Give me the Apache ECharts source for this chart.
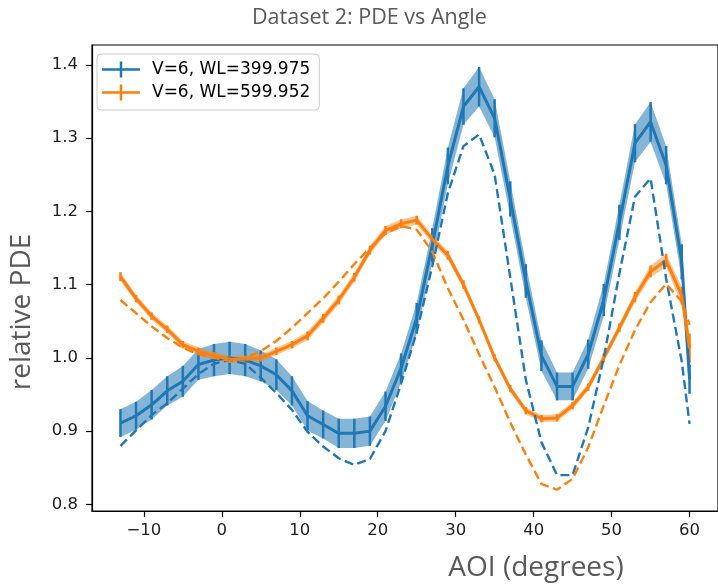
<!DOCTYPE html>
<html>
<head>
<meta charset="utf-8">
<script src="https://cdn.jsdelivr.net/npm/echarts@6/dist/echarts.min.js"></script>
<style>html,body{margin:0;padding:0;background:#fff}#c{width:718px;height:587px}</style>
</head>
<body>
<div id="c"></div>
<script>
// ---- data ----
const angles = [-13,-11,-9,-7,-5,-3,-1,1,3,5,7,9,11,13,15,17,19,21,23,25,27,29,31,33,35,37,39,41,43,45,47,49,51,53,55,57,59,60];

const pde400 = [0.911,0.921,0.936,0.955,0.968,0.991,0.997,1.000,0.997,0.989,0.977,0.955,0.921,0.909,0.897,0.897,0.900,0.934,0.986,1.054,1.154,1.262,1.343,1.370,1.327,1.217,1.105,1.003,0.961,0.961,1.005,1.079,1.185,1.293,1.322,1.263,1.131,0.971];
const err400 = [0.019,0.019,0.020,0.020,0.021,0.021,0.022,0.022,0.022,0.021,0.021,0.020,0.020,0.019,0.020,0.020,0.020,0.020,0.020,0.021,0.023,0.025,0.025,0.027,0.026,0.024,0.023,0.021,0.019,0.019,0.020,0.022,0.024,0.026,0.027,0.026,0.024,0.020];
const model400 = [0.880,0.901,0.922,0.938,0.958,0.978,0.992,0.997,0.992,0.973,0.952,0.929,0.899,0.879,0.863,0.854,0.862,0.900,0.965,1.035,1.125,1.225,1.289,1.305,1.250,1.110,0.970,0.885,0.840,0.840,0.905,1.000,1.115,1.220,1.245,1.108,0.995,0.910];

const pde600 = [1.111,1.081,1.057,1.039,1.018,1.009,1.003,0.998,0.998,1.000,1.009,1.018,1.030,1.054,1.079,1.110,1.147,1.174,1.183,1.188,1.162,1.140,1.100,1.052,1.000,0.958,0.928,0.917,0.918,0.935,0.960,1.000,1.041,1.083,1.118,1.133,1.085,1.013];
const err600 = [0.006,0.005,0.005,0.005,0.005,0.005,0.005,0.005,0.005,0.005,0.005,0.005,0.006,0.006,0.006,0.006,0.006,0.006,0.006,0.006,0.006,0.006,0.006,0.005,0.005,0.005,0.005,0.005,0.005,0.005,0.005,0.006,0.006,0.007,0.008,0.009,0.012,0.020];
const model600 = [1.079,1.061,1.043,1.027,1.014,1.005,1.000,0.996,1.000,1.009,1.023,1.041,1.061,1.081,1.104,1.128,1.150,1.170,1.180,1.175,1.145,1.095,1.052,1.005,0.960,0.912,0.868,0.828,0.820,0.835,0.878,0.935,0.990,1.038,1.076,1.101,1.077,1.045];

const xTicks = [-10,0,10,20,30,40,50,60];
const yTicks = [0.8,0.9,1.0,1.1,1.2,1.3,1.4];

const name400 = 'V=6, WL=399.975';
const name600 = 'V=6, WL=599.952';
const titleText = 'Dataset 2: PDE vs Angle';
const xName = 'AOI (degrees)';
const yName = 'relative PDE';

// ---- build ----
const BLUE = '#1f77b4', ORANGE = '#ff7f0e';
const pairs = (ys) => angles.map((a, i) => [a, ys[i]]);
const errData = (ys, es) => angles.map((a, i) => [a, ys[i], es[i]]);

function errSeries(ys, es, color) {
  return {
    type: 'custom', silent: true, z: 3,
    data: errData(ys, es),
    encode: {x: 0, y: 1},
    renderItem: function (params, api) {
      const x = api.value(0), y = api.value(1), e = api.value(2);
      const p1 = api.coord([x, y - e]);
      const p2 = api.coord([x, y + e]);
      return {type: 'line', shape: {x1: p1[0], y1: p1[1], x2: p2[0], y2: p2[1]},
              style: {stroke: color, lineWidth: 2.5}};
    }
  };
}
// shaded band (value +/- error) drawn as one polygon through the axes' scales
function bandSeries(ys, es, color) {
  return {
    type: 'custom', silent: true, z: 1,
    data: errData(ys, es),
    encode: {x: 0, y: 1},
    renderItem: function (params, api) {
      if (params.dataIndex !== 0) return null;
      const up = [], dn = [];
      for (let i = 0; i < angles.length; i++) {
        up.push(api.coord([angles[i], ys[i] + es[i]]));
        dn.push(api.coord([angles[i], ys[i] - es[i]]));
      }
      const pts = up.concat(dn.reverse());
      return {type: 'polygon', shape: {points: pts}, style: {fill: color}};
    }
  };
}
function dashed(ys, color) {
  return {type: 'line', data: pairs(ys), symbol: 'none', silent: true, z: 4,
          lineStyle: {color: color, width: 2.4, type: [9, 4.5]}};
}
function mainLine(name, ys, color) {
  return {type: 'line', name: name, data: pairs(ys), symbol: 'none', z: 3,
          color: color, lineStyle: {color: color, width: 3}};
}

const iconPath = 'path://M0,6.75h38v2.5h-38z M17.75,0h2.5v16h-2.5z';

const option = {
  animation: false,
  backgroundColor: '#fff',
  title: {
    text: titleText, left: 252, top: 7, padding: 0,
    textStyle: {fontFamily: 'Open Sans', fontSize: 21.5, fontWeight: 'normal', color: '#595959'}
  },
  legend: {
    orient: 'vertical', left: 97, top: 54, padding: [7, 9, 9, 5],
    itemGap: 6, itemWidth: 38, itemHeight: 16, selectedMode: false,
    backgroundColor: 'rgba(255,255,255,0.8)', borderColor: '#cccccc', borderWidth: 1, borderRadius: 4,
    textStyle: {fontFamily: 'DejaVu Sans', fontSize: 17, color: '#000', padding: [0, 0, 0, 7]},
    itemStyle: {borderWidth: 0},
    data: [{name: name400, icon: iconPath}, {name: name600, icon: iconPath}]
  },
  grid: {left: 88, top: 45, width: 633, height: 470, show: true, borderColor: '#000', borderWidth: 1.2,
         backgroundColor: 'transparent'},
  xAxis: {
    type: 'value', min: -16.65, max: 63.65,
    name: xName, nameLocation: 'middle', nameGap: 43,
    nameTextStyle: {fontFamily: 'Open Sans', fontSize: 28, color: '#595959', padding: [0, 0, 0, 262]},
    axisLine: {show: true, onZero: false, lineStyle: {color: '#000', width: 1.2}},
    axisTick: {show: true, length: 6, lineStyle: {color: '#000', width: 1.2}, customValues: xTicks},
    axisLabel: {show: true, margin: 11, fontFamily: 'DejaVu Sans', fontSize: 16.5, color: '#222',
                customValues: xTicks,
                formatter: v => (v < 0 ? '\u2212' + Math.abs(v) : String(v))},
    splitLine: {show: false}
  },
  yAxis: {
    type: 'value', min: 0.791, max: 1.427,
    name: yName, nameLocation: 'middle', nameGap: 56, nameRotate: 90,
    nameTextStyle: {fontFamily: 'Open Sans', fontSize: 28, color: '#595959', padding: [0, 68, 0, 0]},
    axisLine: {show: true, onZero: false, lineStyle: {color: '#000', width: 1.2}},
    axisTick: {show: true, length: 6, lineStyle: {color: '#000', width: 1.2}, customValues: yTicks},
    axisLabel: {show: true, margin: 14, fontFamily: 'DejaVu Sans', fontSize: 16.5, color: '#222',
                customValues: yTicks, formatter: v => v.toFixed(1)},
    splitLine: {show: false}
  },
  series: [
    bandSeries(pde400, err400, 'rgba(31,119,180,0.55)'),
    bandSeries(pde600, err600, 'rgba(255,127,14,0.45)'),
    errSeries(pde400, err400, BLUE), mainLine(name400, pde400, BLUE),
    errSeries(pde600, err600, ORANGE), mainLine(name600, pde600, ORANGE),
    dashed(model400, BLUE), dashed(model600, ORANGE)
  ]
};

const chart = echarts.init(document.getElementById('c'), null, {renderer: 'canvas'});
chart.setOption(option);
</script>
</body>
</html>
